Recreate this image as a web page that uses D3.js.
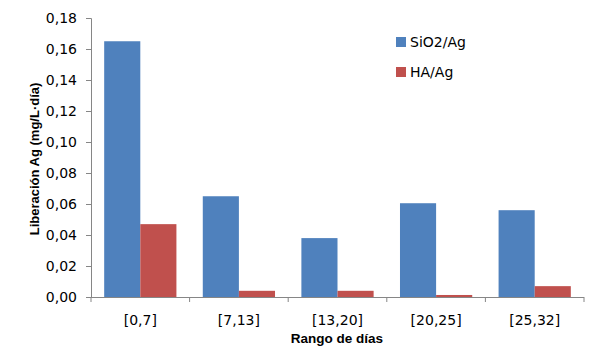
<!DOCTYPE html>
<html><head><meta charset="utf-8">
<script src="https://cdn.jsdelivr.net/npm/d3@7/dist/d3.min.js"></script>
<style>body{margin:0;background:#fff}svg{display:block}</style>
</head><body>
<script>
const categories = ["[0,7]", "[7,13]", "[13,20]", "[20,25]", "[25,32]"];
const seriesNames = ["SiO2/Ag", "HA/Ag"];
const sio2 = [0.165, 0.065, 0.038, 0.0605, 0.056];
const ha = [0.047, 0.004, 0.004, 0.0013, 0.007];
const yTicks = [0, 0.02, 0.04, 0.06, 0.08, 0.10, 0.12, 0.14, 0.16, 0.18];
const colors = ["#4F81BD", "#C0504D"];

const W = 600, H = 360;
const m = {left: 91, right: 16, top: 18, bottom: 63};
const svg = d3.select("body").append("svg").attr("width", W).attr("height", H);
const font = "'Liberation Sans', Arial, sans-serif";
const tickFont = "'DejaVu Sans', sans-serif";

const x = d3.scaleBand().domain(categories).range([m.left, W - m.right]).paddingInner(0).paddingOuter(0);
const xs = d3.scaleBand().domain(seriesNames).range([0, x.bandwidth()]).paddingInner(0).paddingOuter(0.365);
const y = d3.scaleLinear().domain([0, 0.18]).range([H - m.bottom, m.top]);

const data = categories.map((c, i) => ({cat: c, vals: [sio2[i], ha[i]]}));

const g = svg.append("g");
g.selectAll("g.cat").data(data).join("g").attr("class", "cat")
  .attr("transform", d => `translate(${x(d.cat)},0)`)
  .selectAll("rect").data(d => d.vals.map((v, j) => ({name: seriesNames[j], v, j})))
  .join("rect")
  .attr("x", d => xs(d.name)).attr("width", xs.bandwidth())
  .attr("y", d => y(d.v)).attr("height", d => y(0) - y(d.v))
  .attr("fill", d => colors[d.j]);

const fmt = d => d3.format(".2f")(d).replace(".", ",");
const yAxis = svg.append("g").attr("transform", `translate(${m.left},0)`)
  .call(d3.axisLeft(y).tickValues(yTicks).tickFormat(fmt).tickSize(5).tickPadding(9));
const xAxis = svg.append("g").attr("transform", `translate(0,${H - m.bottom})`)
  .call(d3.axisBottom(x).tickSize(0).tickPadding(18));
xAxis.selectAll(".tick line").remove();
const bounds = categories.map(c => x(c)).concat([x(categories[categories.length-1]) + x.bandwidth()]);
xAxis.selectAll("line.bt").data(bounds).join("line").attr("class", "bt")
  .attr("x1", d => d).attr("x2", d => d).attr("y1", 0).attr("y2", 5)
  .attr("stroke", "#868686");
[yAxis, xAxis].forEach(a => {
  a.selectAll(".domain").attr("stroke", "#868686");
  a.selectAll(".tick line").attr("stroke", "#868686");
  a.selectAll("text").attr("font-family", tickFont).attr("font-size", 14).attr("fill", "#000");
});
xAxis.select(".domain").attr("d", `M${m.left},0.5H${W - m.right}`);

svg.append("text").attr("x", 337).attr("y", 343).attr("text-anchor", "middle")
  .attr("font-family", font).attr("font-weight", "bold").attr("font-size", 13.5).text("Rango de días");
svg.append("text").attr("transform", "translate(39,159) rotate(-90)").attr("text-anchor", "middle")
  .attr("font-family", font).attr("font-weight", "bold").attr("font-size", 13).text("Liberación Ag (mg/L·día)");

const leg = svg.append("g").attr("transform", "translate(396,37)");
seriesNames.forEach((n, i) => {
  const r = leg.append("g").attr("transform", `translate(0,${i * 30})`);
  r.append("rect").attr("width", 10).attr("height", 10).attr("fill", colors[i]);
  r.append("text").attr("x", 14).attr("y", 10).attr("font-family", tickFont).attr("font-size", 14).text(n);
});
</script>
</body></html>
